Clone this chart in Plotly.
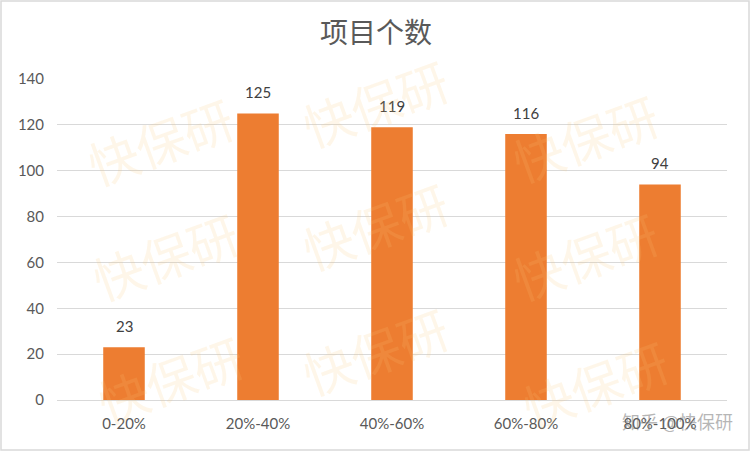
import plotly.graph_objects as go

categories = ["0-20%", "20%-40%", "40%-60%", "60%-80%", "80%-100%"]
values = [23, 125, 119, 116, 94]
y_ticks = [0, 20, 40, 60, 80, 100, 120, 140]
title_text = "项目个数"
watermark_text = "快保研"
credit_text = "知乎 @快保研"

W, H = 752, 452
L, R, T, B = 57, 25, 79, 52
PW, PH = W - L - R, H - T - B

def px_to_paper(x, y):
    return (x - L) / PW, (H - B - y) / PH

fig = go.Figure()
fig.add_trace(go.Bar(
    x=categories, y=values,
    marker=dict(color="#ED7D31", line=dict(width=0)),
    width=0.31,
    hoverinfo="x+y",
))

# value labels above bars
for c, v in zip(categories, values):
    fig.add_annotation(x=c, y=v, text=str(v), showarrow=False, yshift=21,
                       font=dict(size=15, color="#404040", family="Lato, Noto Sans CJK SC"))

# faint watermarks (given in pixel positions, converted to paper coords)
wm_px = [(75, 78), (375, 40), (670, 75),
         (80, 255), (375, 225), (670, 255),
         (85, 440), (375, 412), (680, 445)]
for (x, y) in wm_px:
    px, py = px_to_paper(x, y)
    fig.add_annotation(text=watermark_text, x=px, y=py, xref="paper", yref="paper",
                       showarrow=False, textangle=-20,
                       font=dict(size=50, color="rgba(250,200,120,0.16)", family="Noto Sans CJK SC"))

cx, cy = px_to_paper(735, 421)
fig.add_annotation(text=credit_text, x=cx, y=cy, xref="paper", yref="paper",
                   xanchor="right", yanchor="middle", showarrow=False,
                   font=dict(size=18, color="rgba(110,110,110,0.5)", family="Noto Sans CJK SC"))

fig.update_layout(
    width=W, height=H,
    margin=dict(l=L, r=R, t=T, b=B),
    paper_bgcolor="white", plot_bgcolor="white",
    title=dict(text=title_text, x=0.5, xanchor="center", y=1 - 33 / H, yanchor="middle",
               font=dict(size=28, color="#595959", family="Noto Sans CJK SC")),
    showlegend=False,
    xaxis=dict(showgrid=False, showline=False, ticks="", automargin=False,
               ticklabelstandoff=13,
               tickfont=dict(size=15, color="#595959", family="Lato, Noto Sans CJK SC")),
    yaxis=dict(range=[0, 140], tickvals=y_ticks, showgrid=True, gridcolor="#D9D9D9",
               gridwidth=1, zeroline=True, zerolinecolor="#D9D9D9", zerolinewidth=1,
               ticks="", ticklabelstandoff=12, automargin=False,
               tickfont=dict(size=15, color="#595959", family="Lato, Noto Sans CJK SC")),
)
x0, y0 = px_to_paper(1, 450)
x1, y1 = px_to_paper(749, 1)
fig.add_shape(type="rect", xref="paper", yref="paper", x0=x0, x1=x1, y0=y0, y1=y1,
              line=dict(color="#D9D9D9", width=1.5), layer="below")

fig.write_html("out.html", config={"displayModeBar": False},
               post_script="document.body.style.margin='0';document.body.style.overflow='hidden';")
